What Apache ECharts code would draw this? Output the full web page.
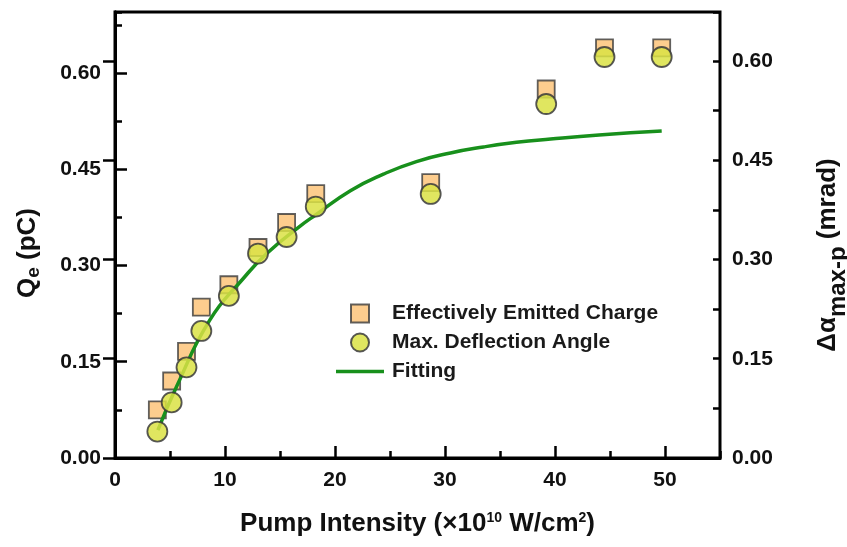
<!DOCTYPE html>
<html>
<head>
<meta charset="utf-8">
<script src="https://cdn.jsdelivr.net/npm/echarts@6/dist/echarts.min.js"></script>
<style>
html,body{margin:0;padding:0;background:#fff;}
#chart{width:847px;height:547px;}
</style>
</head>
<body>
<div id="chart"></div>
<script>
// Pump intensity (x10^10 W/cm^2)
const pumpIntensity = [3.85, 5.15, 6.5, 7.85, 10.35, 13.0, 15.6, 18.25, 28.7, 39.2, 44.5, 49.7];
// Effectively emitted charge Qe (pC) - left axis
const emittedCharge = [0.075, 0.120, 0.166, 0.235, 0.270, 0.328, 0.367, 0.412, 0.429, 0.575, 0.639, 0.639];
// Max. deflection angle (mrad) - right axis
const deflectionAngle = [0.040, 0.084, 0.137, 0.192, 0.245, 0.309, 0.334, 0.380, 0.399, 0.535, 0.606, 0.606];
// Fitting curve - right axis
const fitX = [3.9, 5.6, 8.6, 11.7, 13.8, 16.8, 18.3, 21.4, 24.4, 27.4, 30.5, 33.5, 36.5, 39.6, 44.0, 49.7];
const fitY = [0.042, 0.108, 0.208, 0.272, 0.309, 0.350, 0.368, 0.404, 0.429, 0.448, 0.461, 0.470, 0.477, 0.482, 0.488, 0.494];

const seriesNames = ['Effectively Emitted Charge', 'Max. Deflection Angle', 'Fitting'];

const FONT = '"Liberation Sans", Arial, Helvetica, sans-serif';
const chart = echarts.init(document.getElementById('chart'), null, {renderer: 'canvas'});

const axisLineStyle = {color: '#000', width: 3};
const labelStyle = {color: '#111', fontSize: 21, fontWeight: 'bold', fontFamily: FONT};

function pairs(xs, ys) { return xs.map((x, i) => [x, ys[i]]); }

const option = {
  animation: false,
  backgroundColor: '#fff',
  grid: {left: 115, right: 127, top: 12, bottom: 89, outerBoundsMode: 'none', containLabel: false,
         show: true, borderColor: '#000', borderWidth: 3, backgroundColor: 'transparent'},
  legend: {
    orient: 'vertical', left: 331, top: 298, itemWidth: 48, itemHeight: 18, itemGap: 8,
    symbolKeepAspect: true,
    textStyle: {fontSize: 21, fontWeight: 'bold', fontFamily: FONT, color: '#1a1a1a', padding: [0, 0, 0, 3]},
    data: [
      {name: seriesNames[0], icon: 'path://M0,0 L10,0 L10,10 L0,10 Z'},
      {name: seriesNames[1], icon: 'circle'},
      {name: seriesNames[2], icon: 'path://M0,0 L48,0 L48,3.6 L0,3.6 Z', itemStyle: {color: '#18901c', borderWidth: 0}}
    ]
  },
  xAxis: [
    {
      type: 'value', min: 0, max: 55, interval: 10, position: 'bottom',
      axisLine: {lineStyle: axisLineStyle},
      axisTick: {inside: true, length: 12, lineStyle: {color: '#000', width: 2.5}},
      axisLabel: Object.assign({margin: 12, showMaxLabel: false}, labelStyle),
      splitLine: {show: false},
      name: 'Pump Intensity (×10{sup|10} W/cm{sup|2})',
      nameLocation: 'middle', nameGap: 53,
      nameTextStyle: {
        fontSize: 26, fontWeight: 'bold', fontFamily: FONT, color: '#111',
        rich: {sup: {fontSize: 14, fontWeight: 'bold', fontFamily: FONT, color: '#111', verticalAlign: 'top', padding: [0, 0, 10, 0]}}
      }
    },
    {
      type: 'value', min: 0, max: 55, interval: 5, position: 'bottom',
      axisLine: {show: false},
      axisTick: {inside: true, length: 7, lineStyle: {color: '#000', width: 2.5}},
      axisLabel: {show: false}, splitLine: {show: false}
    }
  ],
  yAxis: [
    {
      type: 'value', min: 0, max: 0.695, interval: 0.15, position: 'left',
      axisLine: {show: true, lineStyle: axisLineStyle},
      axisTick: {show: true, inside: true, length: 12, lineStyle: {color: '#000', width: 2.5}},
      axisLabel: Object.assign({margin: 14, showMaxLabel: false, formatter: v => v.toFixed(2)}, labelStyle),
      splitLine: {show: false},
      name: 'Q{sub|e} (pC)', nameLocation: 'middle', nameGap: 72,
      nameTextStyle: {
        fontSize: 26, fontWeight: 'bold', fontFamily: FONT, color: '#111', padding: [0, 36, 0, 0],
        rich: {sub: {fontSize: 19, fontWeight: 'bold', fontFamily: FONT, color: '#111', verticalAlign: 'bottom', padding: [12, 0, 0, 0]}}
      }
    },
    {
      type: 'value', min: 0, max: 0.674, interval: 0.15, position: 'right',
      axisLine: {show: true, lineStyle: axisLineStyle},
      axisTick: {show: true, inside: true, length: 12, lineStyle: {color: '#000', width: 2.5}},
      axisLabel: Object.assign({margin: 12, showMaxLabel: false, formatter: v => v.toFixed(2)}, labelStyle),
      splitLine: {show: false},
      name: 'Δα{sub|max-p} (mrad)', nameLocation: 'middle', nameGap: 86,
      nameTextStyle: {
        fontSize: 26, fontWeight: 'bold', fontFamily: FONT, color: '#111', padding: [0, 40, 0, 0],
        rich: {sub: {fontSize: 24, fontWeight: 'bold', fontFamily: FONT, color: '#111', verticalAlign: 'bottom', padding: [20, 0, 0, 0]}}
      }
    },
    {
      type: 'value', min: 0, max: 0.695, interval: 0.075, position: 'left',
      axisLine: {show: false},
      axisTick: {show: true, inside: true, length: 7, lineStyle: {color: '#000', width: 2.5}},
      axisLabel: {show: false}, splitLine: {show: false}
    },
    {
      type: 'value', min: 0, max: 0.674, interval: 0.075, position: 'right',
      axisLine: {show: false},
      axisTick: {show: true, inside: true, length: 7, lineStyle: {color: '#000', width: 2.5}},
      axisLabel: {show: false}, splitLine: {show: false}
    }
  ],
  series: [
    {
      name: seriesNames[0], type: 'scatter', xAxisIndex: 0, yAxisIndex: 0, z: 2,
      symbol: 'rect', symbolSize: 17,
      itemStyle: {color: '#FDC172', borderColor: '#3a3a3a', borderWidth: 1.8},
      data: pairs(pumpIntensity, emittedCharge)
    },
    {
      name: seriesNames[2], type: 'line', xAxisIndex: 0, yAxisIndex: 1, z: 3,
      smooth: 0.5, symbol: 'none', showSymbol: false,
      lineStyle: {color: '#18901c', width: 3.5},
      itemStyle: {color: '#18901c'},
      data: pairs(fitX, fitY)
    },
    {
      name: seriesNames[1], type: 'scatter', xAxisIndex: 0, yAxisIndex: 1, z: 4,
      symbol: 'circle', symbolSize: 20,
      itemStyle: {color: '#DAE244', borderColor: '#3a3a3a', borderWidth: 1.8, opacity: 0.85},
      data: pairs(pumpIntensity, deflectionAngle)
    }
  ]
};
chart.setOption(option);
</script>
</body>
</html>
